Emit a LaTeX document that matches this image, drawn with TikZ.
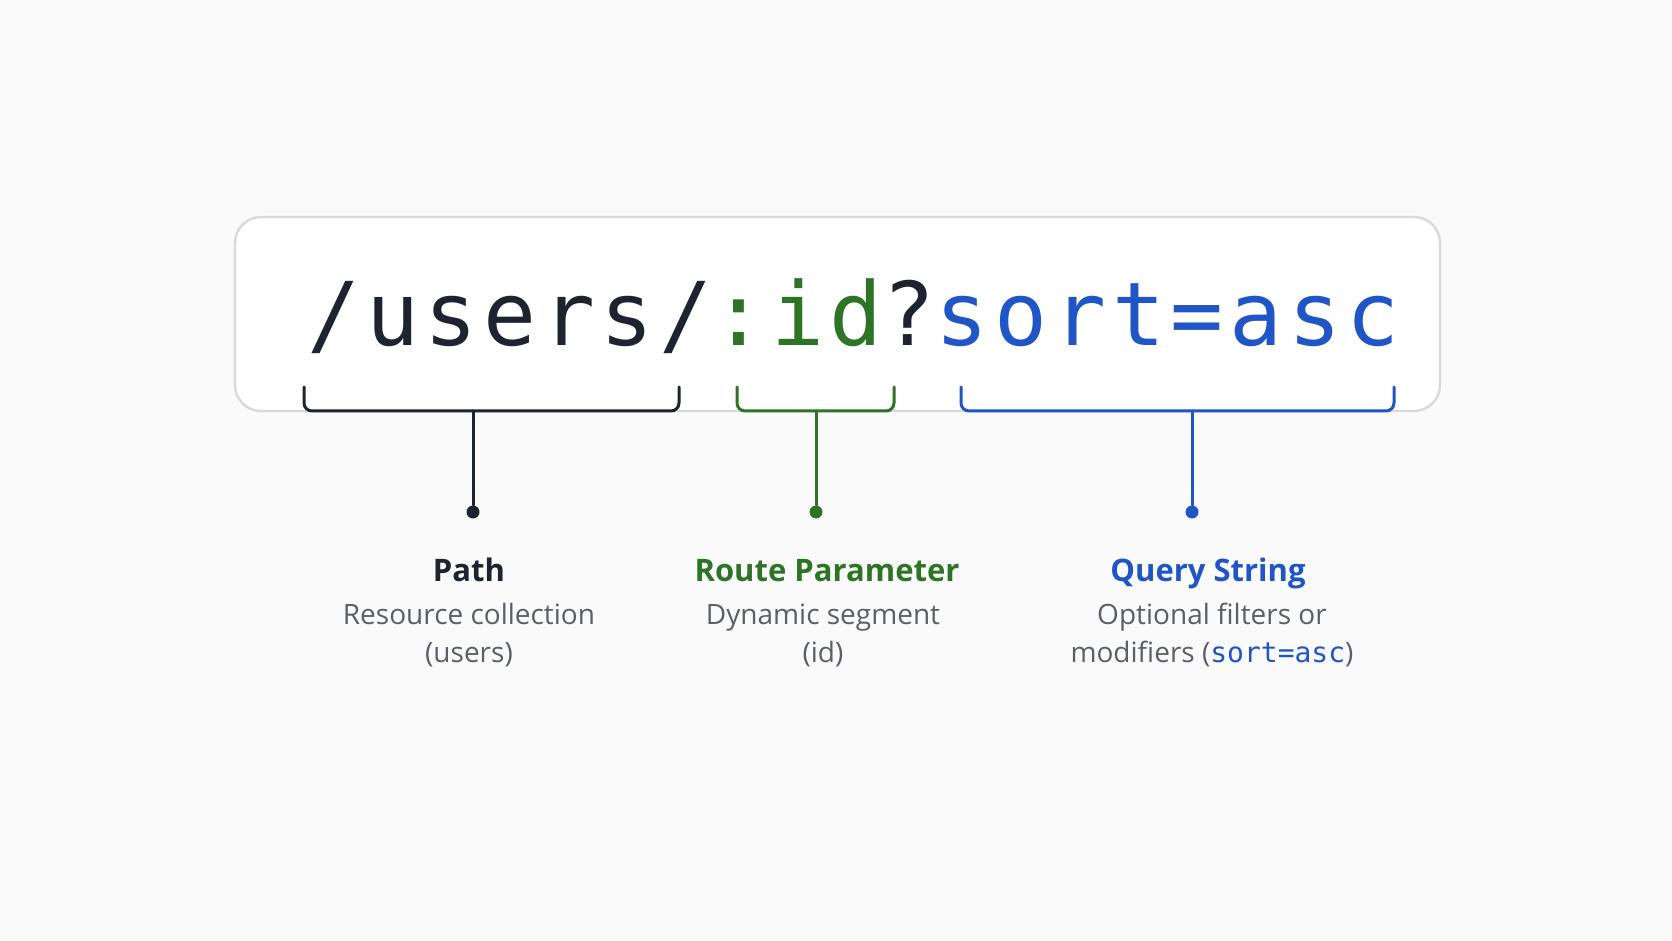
\documentclass[tikz,border=0pt]{standalone}
\usepackage{fontspec}
\newfontfamily\codefont{DejaVu Sans Mono}
\newfontfamily\bigcodefont{DejaVu Sans Mono}[LetterSpace=6.5]
\newfontfamily\labfont{Open Sans}
\definecolor{pathcol}{HTML}{1E2330}
\definecolor{routecol}{HTML}{2E7426}
\definecolor{querycol}{HTML}{1F55C6}
\definecolor{desccol}{HTML}{5A5F69}
\definecolor{boxline}{HTML}{D9D9D9}
\definecolor{bgcol}{HTML}{FAFAFA}

\begin{document}
\begin{tikzpicture}[x=0.5pt, y=-0.5pt, line cap=round, line join=round,
  bracket/.style={line width=1.5pt, rounded corners=4pt},
  stem/.style={line width=1.5pt},
  dot/.style={circle, inner sep=0pt, minimum size=6.5pt},
  title/.style={anchor=base, inner sep=0pt, font=\labfont\bfseries\fontsize{15.5}{18}\selectfont},
  desc/.style={anchor=base, inner sep=0pt, align=center, text=desccol,
    font=\labfont\fontsize{14}{18.6}\selectfont}]

% fondo
\fill[bgcol] (0,0) rectangle (1672,941);
\useasboundingbox (0,0) rectangle (1672,941);

% riquadro dell'URL
\draw[boxline, line width=1.2pt, fill=white, rounded corners=13pt] (235,217) rectangle (1440,411);

% URL
\node[anchor=base west, inner sep=0pt] (url) at (307,346)
  {\bigcodefont\fontsize{44}{44}\selectfont\textcolor{pathcol}{/users/}\textcolor{routecol}{:id}\textcolor{pathcol}{?}\textcolor{querycol}{sort=asc}};

% --- parentesi sotto le tre parti ---
\draw[bracket, pathcol] (304,387) -- (304,411) -- (679,411) -- (679,387);
\draw[bracket, routecol] (737,387) -- (737,411) -- (894,411) -- (894,387);
\draw[bracket, querycol] (961,387) -- (961,411) -- (1394,411) -- (1394,387);

\coordinate (pathtop) at (473,411);
\coordinate (routetop) at (816,411);
\coordinate (querytop) at (1192,411);

% punti
\node[dot, fill=pathcol] (pathdot) at (473,512) {};
\node[dot, fill=routecol] (routedot) at (816,512) {};
\node[dot, fill=querycol] (querydot) at (1192,512) {};

% gambi
\draw[stem, pathcol] (pathtop) -- (pathdot);
\draw[stem, routecol] (routetop) -- (routedot);
\draw[stem, querycol] (querytop) -- (querydot);

% --- etichette ---
\node[title, text=pathcol] (pathtitle) at (469,581) {Path};
\node[title, text=routecol] (routetitle) at (827,581) {Route Parameter};
\node[title, text=querycol] (querytitle) at (1208,581) {Query String};

% (la base del nodo e' quella dell'ultima riga)
\node[desc] (pathdesc) at (469,662) {Resource collection\\(users)};
\node[desc] (routedesc) at (823,662) {Dynamic segment\\(id)};
\node[desc] (querydesc) at (1212,662) {Optional filters or\\modifiers (\textcolor{querycol}{\codefont sort=asc})};
\end{tikzpicture}
\end{document}
